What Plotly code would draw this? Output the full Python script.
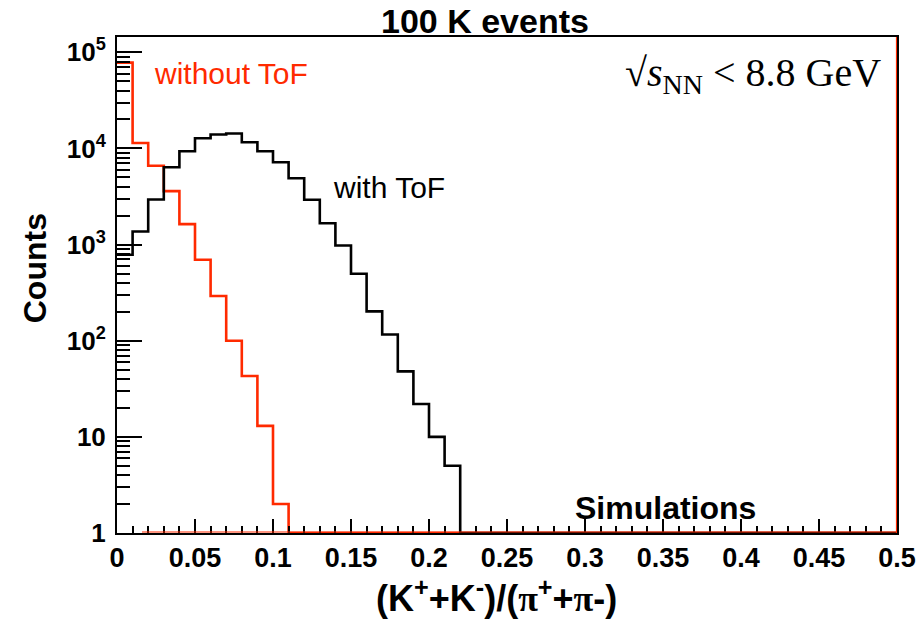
import numpy as np
import plotly.graph_objects as go

# Histogram binning: 50 bins of width 0.01 between 0 and 0.5
bin_edges = np.round(np.arange(0.0, 0.5001, 0.01), 3)

# Counts per bin for the (K+ + K-)/(pi+ + pi-) ratio, 100 K simulated events
counts_without_tof = [78000, 11400, 6600, 3600, 1630, 695, 292, 100, 43, 13, 2] + [0] * 39
counts_with_tof = [783, 1368, 2944, 6380, 9350, 12770, 13960, 14290, 11590, 9350,
                   7190, 4900, 2924, 1667, 979, 497, 202, 116, 48, 22, 10, 5] + [0] * 28

x_ticks = [0, 0.05, 0.1, 0.15, 0.2, 0.25, 0.3, 0.35, 0.4, 0.45, 0.5]
x_tick_text = ["0", "0.05", "0.1", "0.15", "0.2", "0.25", "0.3", "0.35", "0.4", "0.45", "0.5"]
y_ticks = [1, 10, 100, 1000, 10000, 100000]
y_tick_text = ["1", "10", "10<sup>2</sup>", "10<sup>3</sup>", "10<sup>4</sup>", "10<sup>5</sup>"]

Y_FLOOR = 1.0  # empty bins are drawn on the lower edge of the log axis
Y_LOG_RANGE = [0, 5.159]

SANS = "Liberation Sans, Arial, Helvetica, sans-serif"
SERIF = "Liberation Serif, Times New Roman, serif"


def step_path(counts):
    """Return x, y arrays tracing the outline of a histogram."""
    vals = [c if c > 0 else Y_FLOOR for c in counts]
    xs = list(bin_edges[:-1]) + [bin_edges[-1]]
    ys = vals + [vals[-1]]
    return xs, ys


fig = go.Figure()

xr, yr = step_path(counts_without_tof)
fig.add_trace(go.Scatter(x=xr, y=yr, mode="lines", line_shape="hv",
                         line=dict(color="#ff2a00", width=2.6),
                         name="without ToF", showlegend=False, hoverinfo="skip"))

xb, yb = step_path(counts_with_tof)
fig.add_trace(go.Scatter(x=xb, y=yb, mode="lines", line_shape="hv",
                         line=dict(color="black", width=2.6),
                         name="with ToF", showlegend=False, hoverinfo="skip"))

# red histogram frame: baseline and right-hand edge
fig.add_shape(type="line", xref="x", yref="y domain", x0=0.016, x1=0.5, y0=0.002, y1=0.002,
              line=dict(color="#ff2a00", width=1.2), layer="above")
fig.add_shape(type="line", xref="x", yref="y domain", x0=0.5, x1=0.5, y0=0, y1=1,
              line=dict(color="#ff2a00", width=2.2), layer="above")

# minor tick positions on both axes
y_minor = [m * 10 ** k for k in range(0, 6) for m in range(2, 10) if m * 10 ** k < 10 ** Y_LOG_RANGE[1]]
x_minor = [round(v, 3) for v in bin_edges if round(v * 100) % 5 != 0]

fig.update_xaxes(
    range=[0, 0.5], showgrid=False, zeroline=False, automargin=False,
    showline=True, linecolor="black", linewidth=2, mirror=True,
    ticks="inside", ticklen=14, tickwidth=1.5, tickcolor="black",
    tickmode="array", tickvals=x_ticks, ticktext=x_tick_text,
    tickfont=dict(family=SANS, size=27, color="black", weight="bold"),
    minor=dict(tickmode="array", tickvals=x_minor, ticks="inside", ticklen=7,
               tickwidth=1.5, tickcolor="black", showgrid=False),
)
fig.update_yaxes(
    type="log", range=Y_LOG_RANGE, showgrid=False, zeroline=False, automargin=False,
    showline=True, linecolor="black", linewidth=2, mirror=True,
    ticks="inside", ticklen=25, tickwidth=1.5, tickcolor="black",
    tickmode="array", tickvals=y_ticks, ticktext=y_tick_text,
    tickfont=dict(family=SANS, size=26, color="black", weight="bold"),
    ticklabelstandoff=4,
    minor=dict(tickmode="array", tickvals=y_minor, ticks="inside", ticklen=13,
               tickwidth=1.5, tickcolor="black", showgrid=False),
)

annotations = [
    dict(text="<b>100 K events</b>", x=0.4715, y=1.032,
         font=dict(family=SANS, size=34, color="black")),
    dict(text="<b>Counts</b>", x=-0.105, y=0.534, textangle=-90,
         font=dict(family=SANS, size=32, color="black")),
    dict(text="<b>(K<sup>+</sup>+K<sup>-</sup>)/(<span style=\"font-family:Liberation Serif\">π</span>"
              "<sup>+</sup>+<span style=\"font-family:Liberation Serif\">π</span>-)</b>",
         x=0.487, y=-0.128, font=dict(family=SANS, size=36, color="black")),
    dict(text="without ToF", x=0.0448, y=0.927, xanchor="left",
         font=dict(family=SANS, size=30, color="#ff2a00")),
    dict(text="with ToF", x=0.274, y=0.696, xanchor="left",
         font=dict(family=SANS, size=30, color="black")),
    dict(text="<b>Simulations</b>", x=0.703, y=0.050,
         font=dict(family=SANS, size=32, color="black")),
    dict(text="√<i>s</i><sub>NN</sub> &lt; 8.8 GeV", x=0.982, y=0.923, xanchor="right",
         font=dict(family=SERIF, size=40, color="black")),
]
for a in annotations:
    a.setdefault("xref", "paper")
    a.setdefault("yref", "paper")
    a.setdefault("xanchor", "center")
    a.setdefault("yanchor", "middle")
    a.setdefault("showarrow", False)

fig.update_layout(
    width=918, height=621,
    margin=dict(l=117, r=21, t=37, b=88, autoexpand=False),
    paper_bgcolor="white", plot_bgcolor="white",
    showlegend=False,
    annotations=annotations,
)

fig.write_html("out.html")
